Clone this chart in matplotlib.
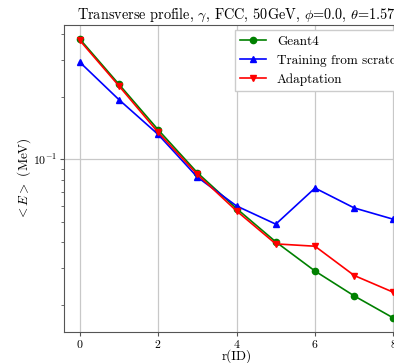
import numpy as np
import matplotlib
matplotlib.use("Agg")
import matplotlib.pyplot as plt

plt.rcParams["font.family"] = "serif"
plt.rcParams["font.serif"] = ["cmr10", "DejaVu Serif"]
plt.rcParams["mathtext.fontset"] = "cm"
plt.rcParams["axes.formatter.use_mathtext"] = True

# radial bins
r_id = [0, 1, 2, 3, 4, 5, 6, 7, 8]

# mean energy per bin (MeV)
geant4 = [0.380, 0.230, 0.139, 0.0864, 0.0581, 0.0402, 0.0291, 0.0221, 0.0173]
scratch = [0.294, 0.194, 0.132, 0.0823, 0.0598, 0.0489, 0.0729, 0.0585, 0.0516]
adaptation = [0.374, 0.226, 0.135, 0.0848, 0.0566, 0.0393, 0.0383, 0.0277, 0.0230]

fig = plt.figure(figsize=(3.94, 3.63), dpi=100)
# the original image is cropped on the right, so the axes run past the edge
ax = fig.add_axes([0.1624, 0.0854, 0.876, 0.846])

ax.plot(r_id, geant4, color="green", marker="o", markersize=4.5, linewidth=1.2, label="Geant4")
ax.plot(r_id, scratch, color="blue", marker="^", markersize=4.5, linewidth=1.2, label="Training from scratch")
ax.plot(r_id, adaptation, color="red", marker="v", markersize=4.5, linewidth=1.2, label="Adaptation")

ax.set_yscale("log")
ax.set_xticks([0, 2, 4, 6, 8])
ax.grid(True, which="major", color="#c8c8c8", linewidth=0.9)
ax.tick_params(which="major", labelsize=8.5, length=3, pad=1.5, color="#555555")
ax.tick_params(which="minor", length=2, color="#555555")
for s in ax.spines.values():
    s.set_color("#555555")

ax.set_title(r"Transverse profile, $\gamma$, FCC, 50GeV, $\phi$=0.0, $\theta$=1.57", fontsize=10.3, pad=4)
ax.set_xlabel("r(ID)", fontsize=9.5, labelpad=-0.5)
ax.set_ylabel(r"$<E>$ (MeV)", fontsize=9.5, labelpad=0)

leg = ax.legend(loc="upper right", bbox_to_anchor=(1.012, 1.0), fontsize=9.5, fancybox=False,
                framealpha=1.0, edgecolor="#cccccc", borderaxespad=0.4)

fig.savefig("out.png", dpi=100)
